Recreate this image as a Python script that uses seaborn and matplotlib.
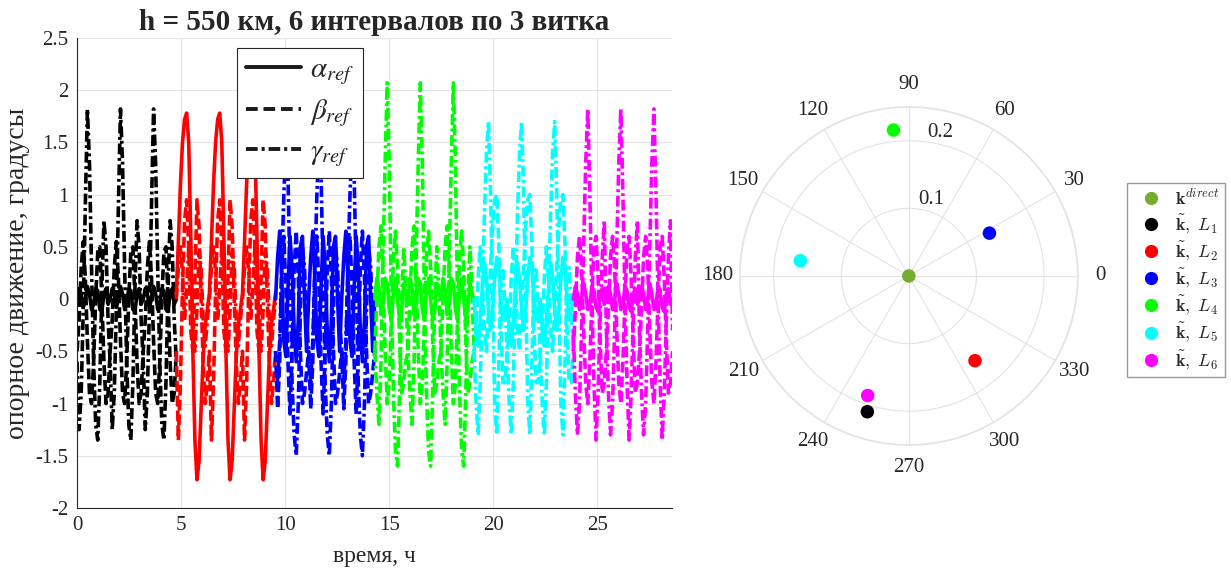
import numpy as np
import pandas as pd
import matplotlib
matplotlib.use("Agg")
import matplotlib.pyplot as plt
from matplotlib.lines import Line2D
from matplotlib.font_manager import FontProperties
from matplotlib.ticker import FuncFormatter
import seaborn as sns

# 6 intervals of 3 orbits each, one orbit ~ 1.59 h (h = 550 km)
INTERVALS = ['L1', 'L2', 'L3', 'L4', 'L5', 'L6']
INTERVAL_START = [0.0, 4.77, 9.54, 14.31, 19.08, 23.85]
ORBIT_H = 1.59
ORBITS_PER_INTERVAL = 3
COLORS = ['#000000', '#ff0000', '#0000ff', '#00ff00', '#00ffff', '#ff00ff']
DIRECT_COLOR = '#77ac30'

# one orbit of each reference angle per interval (16 samples per orbit), degrees
alpha_orbit = [
    [0.0, 0.1, 0.05, -0.08, 0.0, 0.12, 0.05, -0.1, -0.05, 0.1, 0.08, -0.1, -0.12, 0.05, 0.1, -0.05],
    [0.05, 0.55, 1.1, 1.5, 1.72, 1.78, 1.5, 0.6, -0.5, -1.35, -1.73, -1.55, -1.05, -0.55, -0.25, -0.1],
    [0.0, 0.4, 0.65, 0.2, -0.4, -0.55, 0.1, 0.6, 0.3, -0.3, -0.6, -0.2, 0.5, 0.6, 0.0, -0.5],
    [0.0, 0.2, 0.1, -0.15, -0.05, 0.2, 0.15, -0.1, -0.2, 0.05, 0.2, 0.0, -0.2, -0.1, 0.15, 0.05],
    [0.0, -0.3, -0.45, -0.2, 0.1, 0.35, 0.2, -0.1, -0.3, -0.1, 0.2, 0.4, 0.3, 0.0, -0.2, -0.1],
    [0.0, 0.12, 0.05, -0.1, 0.0, 0.15, 0.05, -0.1, -0.05, 0.12, 0.08, -0.08, -0.12, 0.05, 0.1, -0.05],
]
beta_orbit = [
    [-0.5, -0.2, 0.3, 0.55, 0.2, -0.4, -0.9, -1.0, -0.6, 0.0, 0.45, 0.5, 0.0, -0.6, -1.0, -0.9],
    [-0.5, -1.35, -0.8, 0.1, 0.75, 0.95, 0.5, -0.3, -0.5, 0.2, 0.95, 0.7, 0.0, -0.6, -1.0, -0.8],
    [-0.5, -1.05, -0.6, 0.3, 0.6, 0.1, -0.6, -1.1, -0.5, 0.3, 0.65, 0.2, -0.5, -1.0, -0.9, -0.7],
    [-0.5, 0.0, 0.5, 0.7, 0.2, -0.5, -1.0, -0.8, -0.2, 0.4, 0.65, 0.3, -0.4, -0.9, -0.8, -0.6],
    [-0.5, -0.3, 0.2, 0.5, 0.2, -0.3, -0.5, -0.1, 0.3, 0.7, 0.95, 1.0, 0.5, -0.3, -0.8, -0.8],
    [-0.5, -0.1, 0.4, 0.6, 0.3, -0.3, -0.8, -1.0, -0.6, 0.0, 0.5, 0.6, 0.2, -0.4, -0.9, -0.8],
]
gamma_orbit = [
    [-0.6, -1.25, -0.9, -0.1, 0.9, 1.82, 1.3, 0.3, -0.6, -1.2, -1.35, -0.8, 0.1, 0.75, 0.5, -0.2],
    [0.0, 0.3, 0.5, 0.25, -0.2, 0.1, 0.5, 0.35, -0.3, -0.5, -0.1, 0.45, 0.3, -0.2, -0.45, -0.2],
    [-0.5, -0.8, -0.4, 0.3, 1.0, 1.5, 1.2, 0.2, -0.8, -1.3, -1.5, -1.0, -0.1, 0.5, 0.3, -0.2],
    [-0.5, -0.9, -1.2, -0.6, 0.4, 1.3, 2.07, 1.3, 0.0, -0.9, -1.45, -1.6, -0.9, 0.0, 0.5, 0.1],
    [-0.5, -1.0, -1.3, -0.8, 0.0, 0.8, 1.4, 1.7, 1.0, 0.0, -1.0, -1.3, -0.6, 0.2, 0.3, -0.1],
    [-0.3, -0.9, -1.3, -1.0, -0.3, 0.5, 1.3, 1.82, 1.0, 0.0, -0.8, -1.35, -0.9, -0.2, 0.4, 0.75],
]

# polar panel: direction (deg) and magnitude of k~ per interval, k_direct at origin
k_theta = [253, 308, 28, 96, 172, 251]
k_r = [0.21, 0.159, 0.135, 0.217, 0.162, 0.187]
POLAR_LABELS = [r'$\mathbf{k}^{direct}$'] + [r'$\tilde{\mathbf{k}},\ L_%d$' % (i + 1) for i in range(6)]

sns.set_theme(style='white')
plt.rcParams['font.family'] = ['Liberation Serif', 'DejaVu Serif']
plt.rcParams['axes.unicode_minus'] = False
plt.rcParams['mathtext.fontset'] = 'stix'


def build_frame():
    parts = []
    for i, name in enumerate(INTERVALS):
        for curve, prof in (('alpha', alpha_orbit[i]), ('beta', beta_orbit[i]), ('gamma', gamma_orbit[i])):
            vals = np.append(np.tile(prof, ORBITS_PER_INTERVAL), prof[0])
            t = INTERVAL_START[i] + np.arange(len(vals)) * ORBIT_H / len(prof)
            parts.append(pd.DataFrame({'t': t, 'value': vals, 'interval': name, 'curve': curve}))
    return pd.concat(parts, ignore_index=True)


def main():
    df = build_frame()
    fig = plt.figure(figsize=(12.31, 5.74), dpi=100)

    # left: reference motion
    ax = fig.add_axes([0.0626, 0.115, 0.4834, 0.819])
    dashes = {'alpha': '', 'beta': (3, 1.1), 'gamma': (3, 1.0, 0.8, 1.0)}
    sns.lineplot(data=df, x='t', y='value', hue='interval', style='curve',
                 palette=COLORS, dashes=dashes, linewidth=2.6, estimator=None,
                 sort=False, legend=False, ax=ax)
    ax.set_xlim(0, 28.6)
    ax.set_ylim(-2, 2.5)
    ax.set_xticks(np.arange(0, 26, 5))
    ax.set_yticks(np.arange(-2, 2.51, 0.5))
    ax.yaxis.set_major_formatter(FuncFormatter(lambda v, p: '%g' % v))
    ax.grid(True, color='#e3e3e3', linewidth=0.8)
    ax.tick_params(direction='in', length=4, labelsize=15, colors='#262626', pad=6)
    for side in ('top', 'right'):
        ax.spines[side].set_visible(False)
    for side in ('left', 'bottom'):
        ax.spines[side].set_color('#262626')
        ax.spines[side].set_linewidth(0.8)
    ax.set_xlabel('время, ч', fontsize=17, color='#262626', labelpad=8)
    ax.set_ylabel('опорное движение, градусы', fontsize=20, color='#262626', labelpad=4)
    ax.set_title('h = 550 км, 6 интервалов по 3 витка', fontsize=21, fontweight='bold', pad=6)

    handles = [Line2D([], [], color='k', lw=2.8, linestyle='-'),
               Line2D([], [], color='k', lw=2.8, dashes=(3, 1.5)),
               Line2D([], [], color='k', lw=2.8, dashes=(3, 1.0, 0.8, 1.0))]
    leg = ax.legend(handles, [r'$\alpha_{ref}$', r'$\beta_{ref}$', r'$\gamma_{ref}$'],
                    loc='upper left', bbox_to_anchor=(0.269, 0.979), borderaxespad=0,
                    fontsize=21, handlelength=1.9, handletextpad=0.3, labelspacing=0.35,
                    borderpad=0.3, fancybox=False, framealpha=1, edgecolor='#262626')
    leg.get_frame().set_linewidth(0.8)

    # right: directions of k on polar plot
    pax = fig.add_axes([0.601, 0.2247, 0.2746, 0.589], projection='polar')
    pol = pd.DataFrame({'theta': np.deg2rad([0] + k_theta), 'r': [0.0] + k_r,
                        'label': POLAR_LABELS})
    pal = [DIRECT_COLOR] + COLORS
    sns.scatterplot(data=pol, x='theta', y='r', hue='label', palette=pal, s=95,
                    edgecolor='none', legend=False, ax=pax)
    pax.set_xlabel('')
    pax.set_ylabel('')
    pax.set_rlim(0, 0.25)
    pax.set_rticks([0.1, 0.2])
    pax.set_yticklabels(['0.1', '0.2'])
    pax.set_rlabel_position(82)
    pax.set_thetagrids(np.arange(0, 360, 30), labels=[str(a) for a in range(0, 360, 30)])
    pax.grid(True, color='#e3e3e3', linewidth=0.8)
    pax.spines['polar'].set_color('#e3e3e3')
    pax.tick_params(axis='x', labelsize=15, pad=3, colors='#262626')
    pax.tick_params(axis='y', labelsize=15, colors='#262626')

    phandles = [Line2D([], [], marker='o', color='none', markerfacecolor=c,
                       markeredgecolor='none', markersize=9.5) for c in pal]
    fig.legend(phandles, POLAR_LABELS, loc='upper left', bbox_to_anchor=(0.9155, 0.681),
               borderaxespad=0,
               prop=FontProperties(family='Liberation Serif', size=13, math_fontfamily='cm'),
               handlelength=2.05, handletextpad=0.3, labelspacing=0.22, borderpad=0.3,
               fancybox=False, framealpha=1, edgecolor='#999999')

    fig.savefig('out.png', dpi=100)


if __name__ == '__main__':
    main()
